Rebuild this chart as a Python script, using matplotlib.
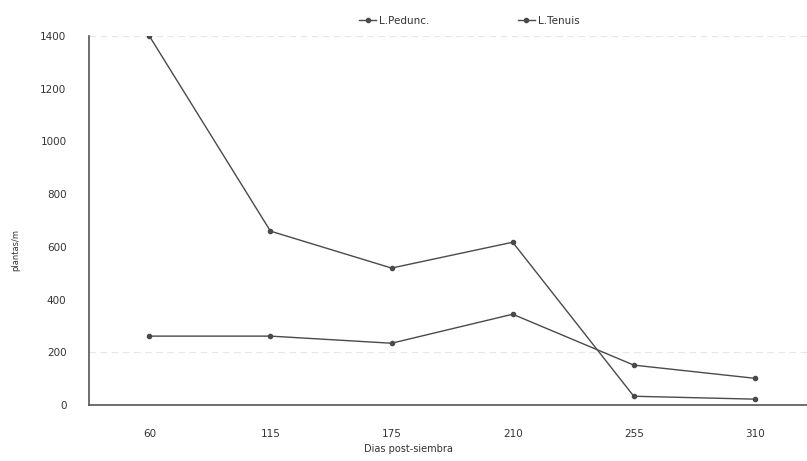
import matplotlib.pyplot as plt

dias = ['60', '115', '175', '210', '255', '310']
pedunc = [1400, 660, 520, 618, 34, 23]
tenuis = [262, 262, 235, 345, 152, 102]
yticks = [0, 200, 400, 600, 800, 1000, 1200, 1400]

fig = plt.figure(figsize=(8.07, 4.61), dpi=100)
ax = fig.add_axes([0.110, 0.121, 0.890, 0.801])

x = list(range(len(dias)))
c = '#4a4a4a'
ax.plot(x, pedunc, color=c, lw=1.0, marker='.', ms=6, label='L.Pedunc.')
ax.plot(x, tenuis, color=c, lw=1.0, marker='.', ms=6, label='L.Tenuis')

# faint grid lines
for g in [200, 1400]:
    ax.axhline(g, color='#e6e6e6', lw=0.8, ls=(0, (6, 4)), zorder=0)

ax.set_xlim(-0.5, 5.43)
ax.set_ylim(0, 1400)
ax.set_xticks(x)
ax.set_xticklabels(dias)
ax.set_yticks(yticks)
ax.tick_params(axis='both', length=0, labelsize=7.5, colors='#333333')
ax.tick_params(axis='x', pad=17)
ax.tick_params(axis='y', pad=16)

for s in ['top', 'right']:
    ax.spines[s].set_visible(False)
ax.spines['left'].set_color('#555555')
ax.spines['bottom'].set_color('#555555')
ax.spines['left'].set_linewidth(1.2)
ax.spines['bottom'].set_linewidth(1.2)

ax.set_xlabel('Dias post-siembra', fontsize=7, color='#333333')
ax.xaxis.set_label_coords(0.445, -0.105)
ax.set_ylabel('plantas/m', fontsize=6, color='#333333')
ax.yaxis.set_label_coords(-0.096, 0.42)

ax.legend(loc='upper center', bbox_to_anchor=(0.53, 1.08), ncol=2, frameon=False,
          fontsize=7.5, handlelength=1.6, columnspacing=8.5, handletextpad=0.3,
          labelcolor='#333333')

fig.savefig('out.png', dpi=100)
